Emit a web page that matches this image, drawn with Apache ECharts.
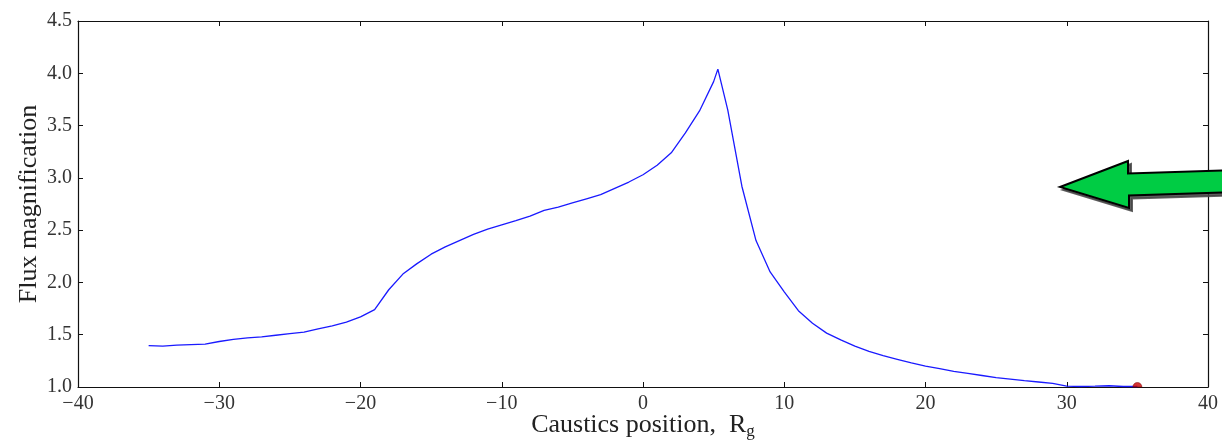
<!DOCTYPE html>
<html>
<head>
<meta charset="utf-8">
<script src="https://cdn.jsdelivr.net/npm/echarts@6/dist/echarts.min.js"></script>
<style>
html,body{margin:0;padding:0;background:#fff;}
#chart{width:1222px;height:444px;}
</style>
</head>
<body>
<div id="chart"></div>
<script>
// Caustics position (Rg)
var causticsPos = [-35,-34,-33,-32,-31,-30,-29,-28,-27,-26,-25,-24,-23,-22,-21,-20,-19,-18,-17,-16,-15,-14,-13,-12,-11,-10,-9,-8,-7,-6,-5,-4,-3,-2,-1,0,1,2,3,4,5,5.3,6,7,8,9,10,11,12,13,14,15,16,17,18,19,20,21,22,23,24,25,26,27,28,29,30,31,32,33,34,35];
// Flux magnification
var fluxMag = [1.395,1.39,1.40,1.405,1.41,1.435,1.455,1.47,1.48,1.495,1.51,1.525,1.555,1.585,1.62,1.67,1.74,1.93,2.08,2.18,2.27,2.34,2.40,2.46,2.51,2.55,2.59,2.635,2.69,2.72,2.76,2.80,2.84,2.90,2.96,3.03,3.12,3.24,3.43,3.64,3.92,4.04,3.65,2.92,2.40,2.10,1.91,1.73,1.61,1.515,1.45,1.39,1.34,1.30,1.265,1.23,1.20,1.175,1.15,1.13,1.11,1.09,1.075,1.06,1.048,1.035,1.008,1.005,1.008,1.012,1.005,1.005];
// Current position marker
var markerPoint = [[35, 1.0]];

var xTicks = {min:-40, max:40, interval:10};
var yTicks = {min:1.0, max:4.5, interval:0.5};

var lineData = causticsPos.map(function(x,i){return [x, fluxMag[i]];});
var FONT = '"Liberation Serif", "DejaVu Serif", serif';
function fmtX(v){ return String(v).replace('-', '\u2212'); }
function fmtY(v){ return v.toFixed(1); }

var chart = echarts.init(document.getElementById('chart'), null, {renderer:'canvas'});

var axisLineStyle = {color:'#111', width:1.2};
var arrowPts = [[1060,187],[1128,161],[1128,173.5],[1240,170],[1240,192],[1129,195.5],[1129,208]];
var shadowPts = arrowPts.map(function(p){return [p[0]+3,p[1]+3];});

chart.setOption({
  animation:false,
  backgroundColor:'#fff',
  grid:{left:78,right:14,top:21,bottom:57,containLabel:false,outerBoundsMode:'none'},
  xAxis:[{
    type:'value', min:xTicks.min, max:xTicks.max, interval:xTicks.interval,
    position:'bottom',
    axisLine:{onZero:false, lineStyle:axisLineStyle},
    axisTick:{inside:true, length:5, lineStyle:{color:'#111',width:1}},
    axisLabel:{margin:7, fontSize:20, color:'#333', fontFamily:FONT, formatter:fmtX},
    splitLine:{show:false},
    name:'Caustics position,  R{sub|g}',
    nameLocation:'middle', nameGap:25, nameMoveOverlap:false,
    nameTextStyle:{fontSize:26, color:'#222', fontFamily:FONT, lineHeight:26,
      rich:{sub:{fontSize:17, fontFamily:FONT, color:'#222', lineHeight:17, padding:[11,0,0,0], verticalAlign:'top'}}}
  },{
    type:'value', min:xTicks.min, max:xTicks.max, interval:xTicks.interval,
    position:'top',
    axisLine:{onZero:false, lineStyle:axisLineStyle},
    axisTick:{inside:true, length:5, lineStyle:{color:'#111',width:1}},
    axisLabel:{show:false}, splitLine:{show:false}
  }],
  yAxis:[{
    type:'value', min:yTicks.min, max:yTicks.max, interval:yTicks.interval,
    position:'left',
    axisLine:{show:true, onZero:false, lineStyle:axisLineStyle},
    axisTick:{show:true, inside:true, length:5, lineStyle:{color:'#111',width:1}},
    axisLabel:{margin:6, fontSize:20, color:'#333', fontFamily:FONT, formatter:fmtY},
    splitLine:{show:false},
    name:'Flux magnification', nameLocation:'middle', nameGap:36, nameMoveOverlap:false,
    nameTextStyle:{fontSize:26, color:'#222', fontFamily:FONT}
  },{
    type:'value', min:yTicks.min, max:yTicks.max, interval:yTicks.interval,
    position:'right',
    axisLine:{show:true, onZero:false, lineStyle:axisLineStyle},
    axisTick:{show:true, inside:true, length:5, lineStyle:{color:'#111',width:1}},
    axisLabel:{show:false}, splitLine:{show:false}
  }],
  series:[{
    type:'line', data:lineData, xAxisIndex:0, yAxisIndex:0,
    showSymbol:false, symbol:'none', clip:true,
    lineStyle:{color:'#1a1aff', width:1.3}, z:3
  },{
    type:'scatter', data:markerPoint, xAxisIndex:0, yAxisIndex:0,
    symbol:'path://M-4,0 A4,4 0 0 1 4,0 Z', symbolSize:[9,4.5], symbolOffset:[0,'-50%'],
    itemStyle:{color:'#c80000', borderColor:'#7a0000', borderWidth:0.6}, z:4
  }],
  graphic:[{
    type:'polygon', z:100, silent:true,
    shape:{points:shadowPts},
    style:{fill:'#444', stroke:'#444', lineWidth:2, opacity:0.85}
  },{
    type:'polygon', z:101, silent:true,
    shape:{points:arrowPts},
    style:{fill:'#00cc44', stroke:'#000', lineWidth:2, lineJoin:'miter'}
  }]
});
</script>
</body>
</html>
